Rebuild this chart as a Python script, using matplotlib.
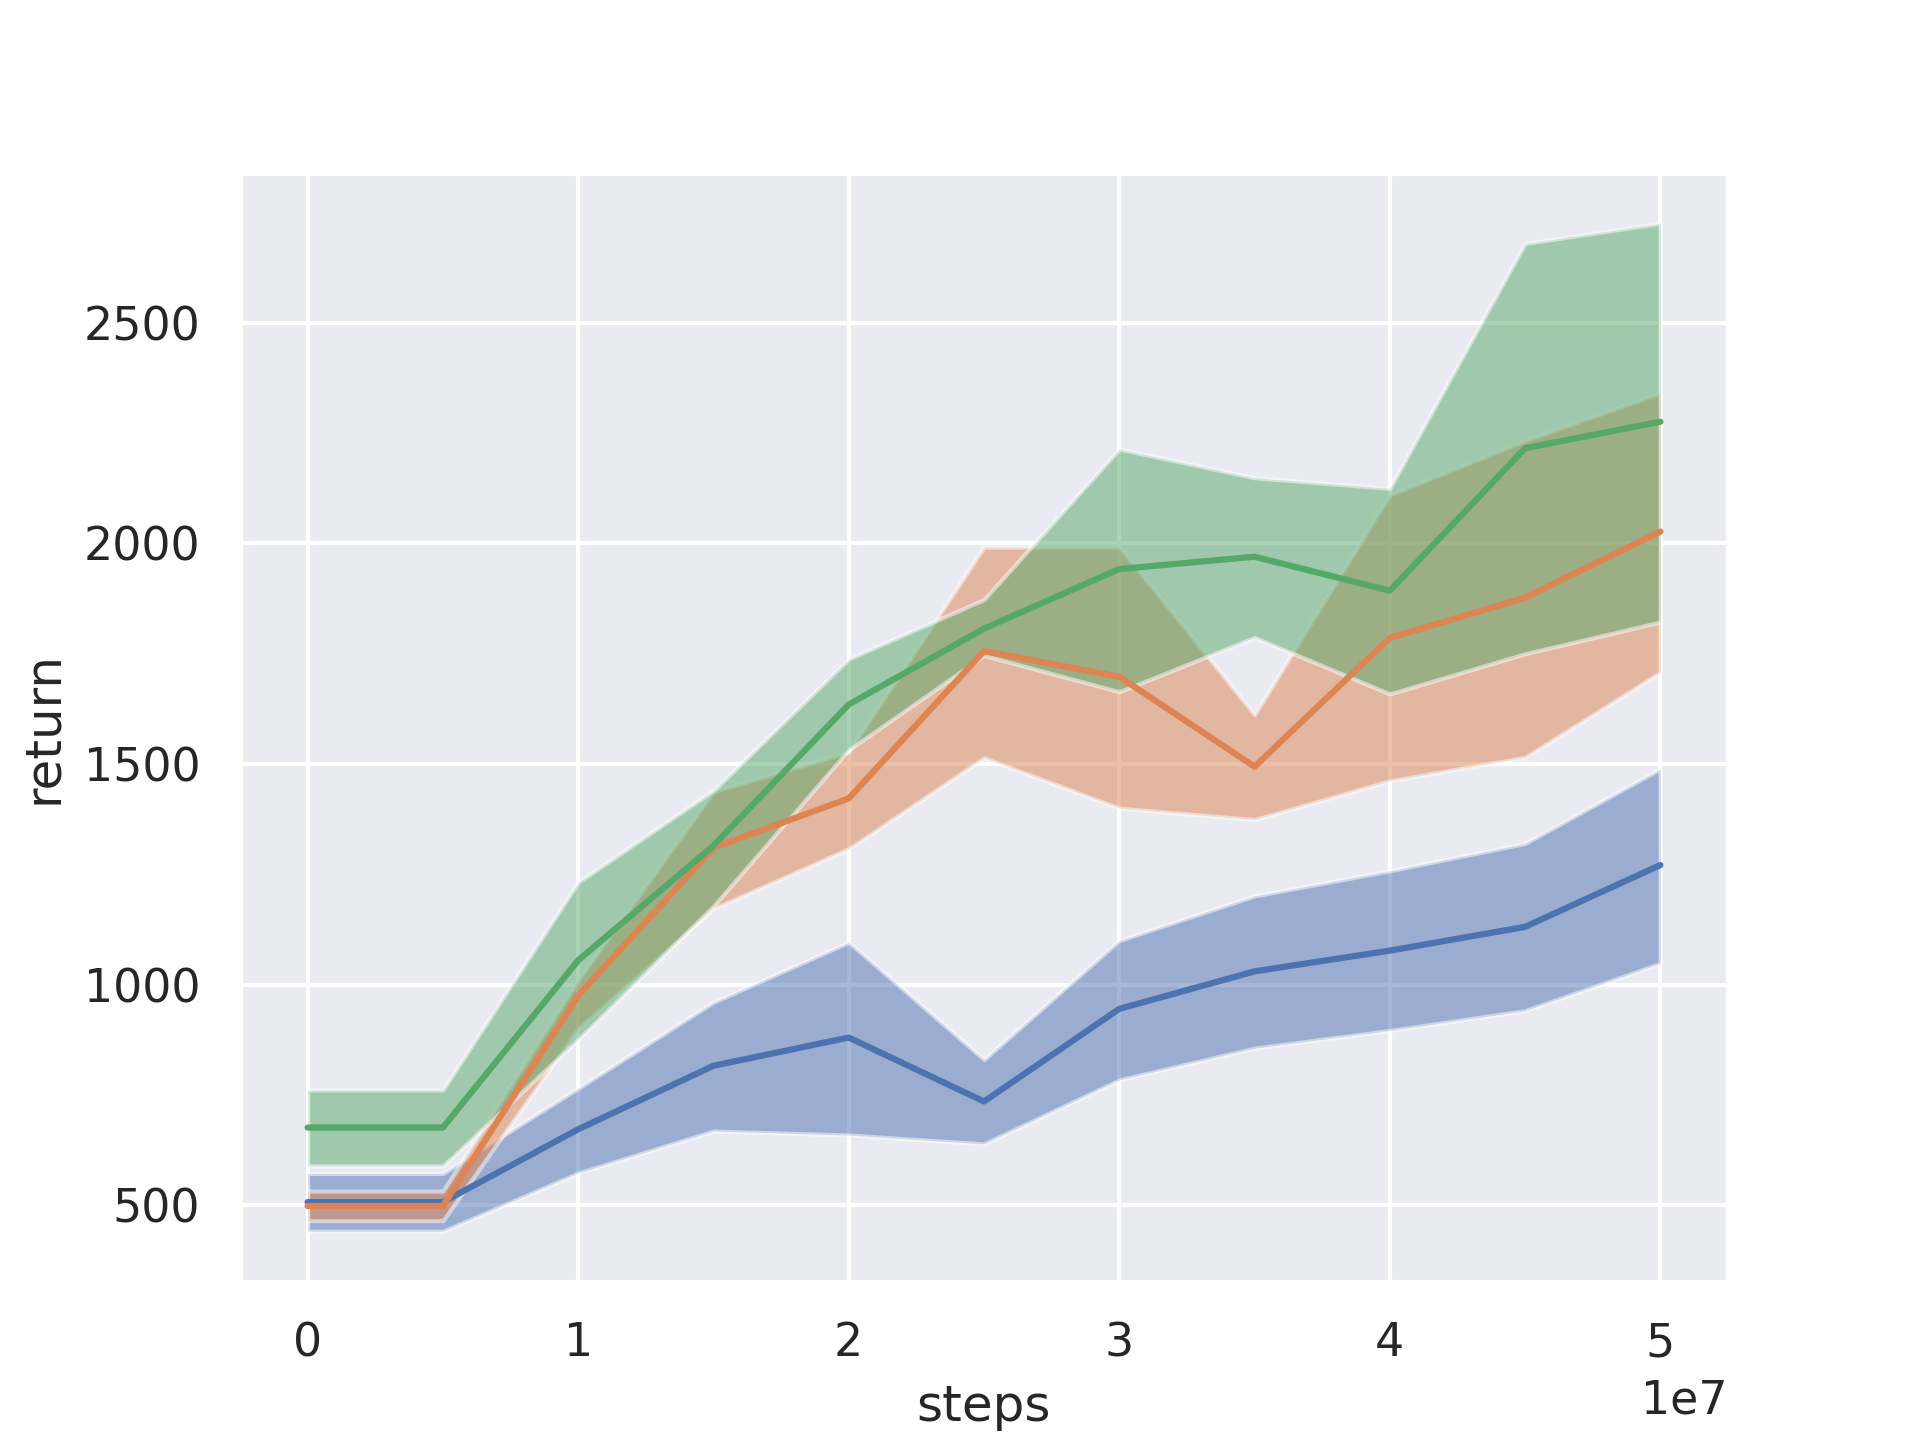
import numpy as np
import matplotlib
matplotlib.use("Agg")
import matplotlib.pyplot as plt
import seaborn as sns

sns.set_theme()

steps = [0, 5e6, 1e7, 1.5e7, 2e7, 2.5e7, 3e7, 3.5e7, 4e7, 4.5e7, 5e7]

# blue run
blue_mean = [507, 507, 672, 816, 880, 735, 945, 1030, 1077, 1131, 1271]
blue_low = [441, 441, 573, 668, 659, 639, 784, 856, 896, 941, 1048]
blue_high = [572, 572, 765, 960, 1096, 830, 1100, 1201, 1258, 1320, 1489]

# orange run
orange_mean = [498, 498, 975, 1310, 1422, 1756, 1698, 1494, 1786, 1877, 2027]
orange_low = [465, 465, 900, 1172, 1308, 1514, 1400, 1374, 1462, 1515, 1708]
orange_high = [532, 532, 1010, 1437, 1527, 1992, 1992, 1612, 2110, 2233, 2341]

# green run
green_mean = [676, 676, 1055, 1315, 1635, 1807, 1942, 1970, 1893, 2216, 2276]
green_low = [589, 589, 876, 1178, 1532, 1746, 1664, 1787, 1659, 1750, 1822]
green_high = [761, 761, 1232, 1440, 1738, 1873, 2214, 2149, 2125, 2680, 2726]

runs = [
    (blue_mean, blue_low, blue_high),
    (orange_mean, orange_low, orange_high),
    (green_mean, green_low, green_high),
]

fig, ax = plt.subplots(figsize=(6.4, 4.8))
x = np.array(steps)
for mean, low, high in runs:
    line, = ax.plot(x, mean)
    # white edges like seaborn's patch style
    ax.fill_between(x, low, high, alpha=0.5, facecolor=line.get_color(),
                    edgecolor="white")

ax.set_xlabel("steps")
ax.set_ylabel("return")

fig.savefig("out.png", dpi=300)
